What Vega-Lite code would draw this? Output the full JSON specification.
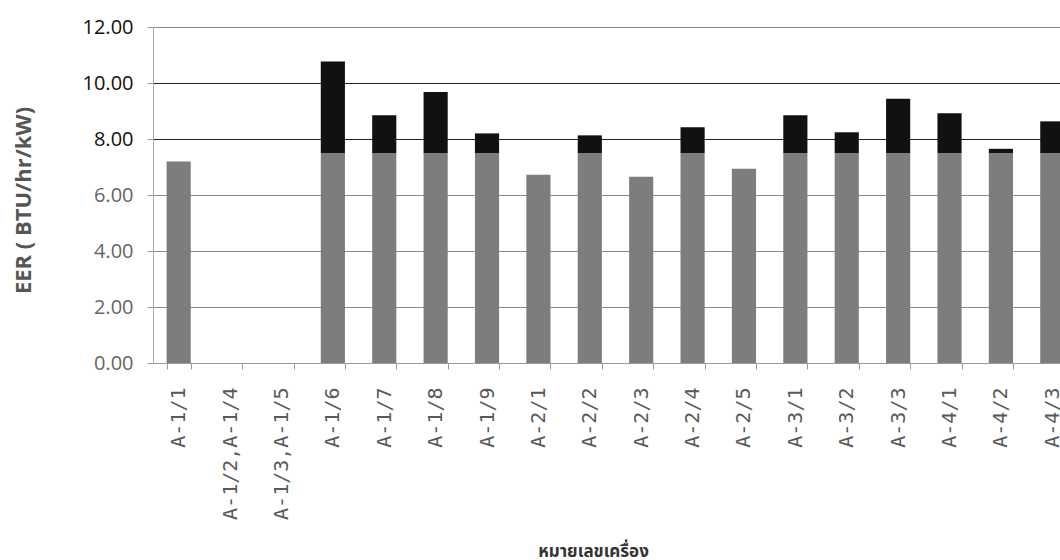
{
  "$schema": "https://vega.github.io/schema/vega-lite/v6.json",
  "autosize": "none",
  "width": 907,
  "height": 336,
  "padding": {"left": 153, "top": 27, "right": 0, "bottom": 197},
  "background": "white",
  "config": {"view": {"stroke": null}},
  "data": {
    "values": [
      {"machine": "A-1/1", "part": "base", "eer": 7.2},
      {"machine": "A-1/2,A-1/4", "part": "base", "eer": 0},
      {"machine": "A-1/3,A-1/5", "part": "base", "eer": 0},
      {"machine": "A-1/6", "part": "base", "eer": 7.5},
      {"machine": "A-1/6", "part": "above", "eer": 3.27},
      {"machine": "A-1/7", "part": "base", "eer": 7.5},
      {"machine": "A-1/7", "part": "above", "eer": 1.35},
      {"machine": "A-1/8", "part": "base", "eer": 7.5},
      {"machine": "A-1/8", "part": "above", "eer": 2.18},
      {"machine": "A-1/9", "part": "base", "eer": 7.5},
      {"machine": "A-1/9", "part": "above", "eer": 0.7},
      {"machine": "A-2/1", "part": "base", "eer": 6.72},
      {"machine": "A-2/2", "part": "base", "eer": 7.5},
      {"machine": "A-2/2", "part": "above", "eer": 0.63},
      {"machine": "A-2/3", "part": "base", "eer": 6.65},
      {"machine": "A-2/4", "part": "base", "eer": 7.5},
      {"machine": "A-2/4", "part": "above", "eer": 0.92},
      {"machine": "A-2/5", "part": "base", "eer": 6.94},
      {"machine": "A-3/1", "part": "base", "eer": 7.5},
      {"machine": "A-3/1", "part": "above", "eer": 1.35},
      {"machine": "A-3/2", "part": "base", "eer": 7.5},
      {"machine": "A-3/2", "part": "above", "eer": 0.74},
      {"machine": "A-3/3", "part": "base", "eer": 7.5},
      {"machine": "A-3/3", "part": "above", "eer": 1.94},
      {"machine": "A-4/1", "part": "base", "eer": 7.5},
      {"machine": "A-4/1", "part": "above", "eer": 1.42},
      {"machine": "A-4/2", "part": "base", "eer": 7.5},
      {"machine": "A-4/2", "part": "above", "eer": 0.15},
      {"machine": "A-4/3", "part": "base", "eer": 7.5},
      {"machine": "A-4/3", "part": "above", "eer": 1.13}
    ]
  },
  "mark": {"type": "bar", "clip": false},
  "encoding": {
    "x": {
      "field": "machine",
      "type": "nominal",
      "sort": null,
      "scale": {"range": [0, 925], "paddingInner": 0.53, "paddingOuter": 0.265},
      "axis": {
        "title": "หมายเลขเครื่อง",
        "titleFont": "Noto Sans, Noto Sans Thai, DejaVu Sans, sans-serif",
        "titleFontSize": 17,
        "titleFontWeight": "bold",
        "titleColor": "#333",
        "titleX": 440,
        "titleY": 193,
        "titleAlign": "center",
        "titleBaseline": "alphabetic",
        "labelAngle": -90,
        "labelAlign": "right",
        "labelBaseline": "middle",
        "labelFont": "DejaVu Sans Mono",
        "labelFontSize": 20,
        "labelColor": "#5a5a5a",
        "labelPadding": 18,
        "labelOverlap": false,
        "tickBand": "extent",
        "tickSize": 6,
        "tickColor": "#999",
        "domainColor": "#9a9a9a",
        "grid": false
      }
    },
    "y": {
      "field": "eer",
      "type": "quantitative",
      "stack": "zero",
      "scale": {"domain": [0, 12], "nice": false},
      "axis": {
        "title": "EER ( BTU/hr/kW)",
        "titleFont": "Open Sans",
        "titleFontSize": 22,
        "titleFontWeight": "bold",
        "titleColor": "#555",
        "titleAngle": -90,
        "titleX": -130,
        "titleY": 173,
        "titleAlign": "center",
        "titleBaseline": "middle",
        "values": [0, 2, 4, 6, 8, 10, 12],
        "format": ".2f",
        "labelFont": "Open Sans",
        "labelFontSize": 20,
        "labelColor": {"condition": {"test": "datum.value >= 8", "value": "#111"}, "value": "#666"},
        "labelPadding": 14,
        "tickSize": 6,
        "tickColor": "#999",
        "domainColor": "#aaa",
        "grid": true,
        "gridColor": {"condition": {"test": "datum.value == 8 || datum.value == 10", "value": "#222"}, "value": "#8a8a8a"},
        "gridWidth": 1.2
      }
    },
    "color": {
      "field": "part",
      "type": "nominal",
      "scale": {"domain": ["base", "above"], "range": ["#7d7d7d", "#111111"]},
      "legend": null
    },
    "order": {"field": "part", "sort": "descending"}
  }
}
